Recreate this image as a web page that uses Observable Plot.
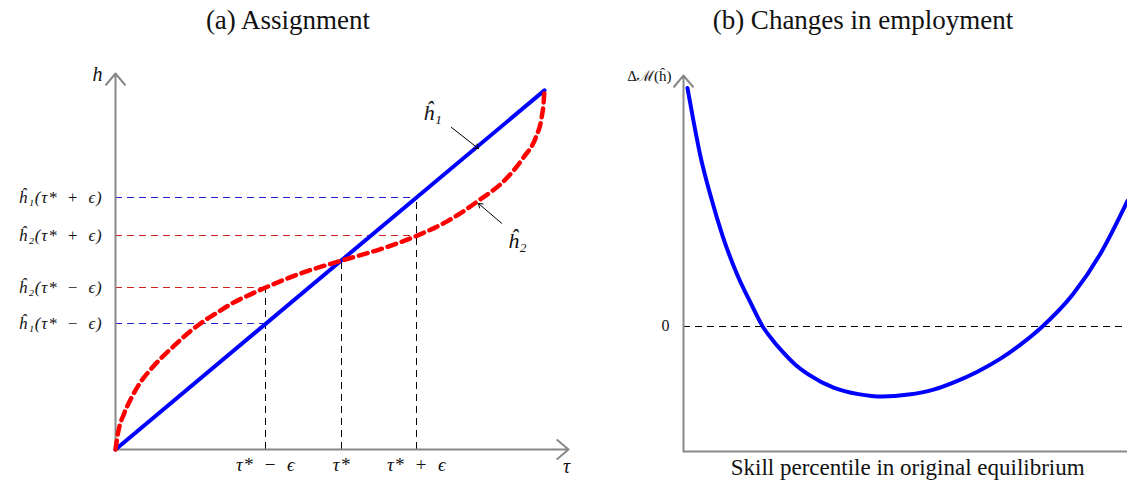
<!DOCTYPE html>
<html><head><meta charset="utf-8">
<script src="https://cdn.jsdelivr.net/npm/d3@7"></script>
<script src="https://cdn.jsdelivr.net/npm/@observablehq/plot@0.6"></script>
<style>
body{margin:0;background:#fff;}
#wrap{position:relative;width:1127px;height:481px;overflow:hidden;font-family:"Liberation Serif","DejaVu Serif",serif;color:#111;}
.title{position:absolute;top:5px;font-size:27px;text-align:center;white-space:nowrap;}
#pa{position:absolute;left:0;top:50px;}
#pb{position:absolute;left:590px;top:50px;}
#pa g[aria-label="y-axis tick label"] text{letter-spacing:0.8px;}
#pa g[aria-label="x-axis tick label"] text{letter-spacing:0.6px;}
</style></head><body>
<div id="wrap">
<div class="title" style="left:88px;width:400px">(a) Assignment</div>
<div class="title" style="left:663px;width:400px">(b) Changes in employment</div>
<div id="pa"></div><div id="pb"></div>
</div>
<script>
// ---------- Panel (a): Assignment ----------
const h1Tau = [0, 1];
const h1Val = [0, 1];
const h2Tau = [0, 0.007, 0.019, 0.035, 0.058, 0.082, 0.105, 0.135, 0.168, 0.198, 0.238, 0.275, 0.315, 0.350, 0.438, 0.527, 0.618, 0.702, 0.774, 0.844, 0.914, 0.951, 0.980, 0.993, 0.998, 1.0];
const h2Val = [0, 0.053, 0.097, 0.139, 0.187, 0.223, 0.253, 0.287, 0.323, 0.351, 0.382, 0.409, 0.432, 0.451, 0.493, 0.526, 0.558, 0.595, 0.636, 0.691, 0.758, 0.813, 0.870, 0.922, 0.966, 1.0];
const tauTicks = [0.35, 0.527, 0.702];
const tauTickLabels = ["τ*\u2002−\u2002ϵ", "τ*", "τ*\u2002+\u2002ϵ"];
const tauGuideTop = [0.451, 0.527, 0.702];
const hTicks = [0.351, 0.451, 0.595, 0.702];
const hTickLabels = ["ĥ₁(τ*\u2002−\u2002ϵ)", "ĥ₂(τ*\u2002−\u2002ϵ)", "ĥ₂(τ*\u2002+\u2002ϵ)", "ĥ₁(τ*\u2002+\u2002ϵ)"];
const hTickSeries = ["h1", "h2", "h2", "h1"];
const hGuideEnd = [0.35, 0.35, 0.702, 0.702];
const tauMax = 1.056, hMax = 1.047;

const serif = "Liberation Serif, DejaVu Serif, serif";
const h1Pts = h1Tau.map((t, i) => ({t, h: h1Val[i]}));
const h2Pts = h2Tau.map((t, i) => ({t, h: h2Val[i]}));
const hGuides = hTicks.map((h, i) => ({h, end: hGuideEnd[i], s: hTickSeries[i]}));
const tGuides = tauTicks.map((t, i) => ({t, top: tauGuideTop[i]}));

const plotA = Plot.plot({
  width: 590, height: 431,
  marginLeft: 115, marginRight: 22, marginTop: 23, marginBottom: 32,
  x: {domain: [0, tauMax]},
  y: {domain: [0, hMax]},
  style: {fontFamily: serif, background: "transparent", overflow: "visible"},
  marks: [
    Plot.ruleY(hGuides.filter(d => d.s === "h1"), {y: "h", x1: 0, x2: "end", stroke: "#2020d0", strokeWidth: 1, strokeDasharray: "7,5", shapeRendering: "crispEdges"}),
    Plot.ruleY(hGuides.filter(d => d.s === "h2"), {y: "h", x1: 0, x2: "end", stroke: "#d02020", strokeWidth: 1, strokeDasharray: "7,5", shapeRendering: "crispEdges"}),
    Plot.ruleX(tGuides, {x: "t", y1: 0, y2: "top", stroke: "black", strokeWidth: 1, strokeDasharray: "7,5", shapeRendering: "crispEdges"}),
    Plot.arrow([{x1: 0, y1: 0, x2: tauMax, y2: 0}, {x1: 0, y1: 0, x2: 0, y2: hMax}], {x1: "x1", y1: "y1", x2: "x2", y2: "y2", stroke: "#888", strokeWidth: 2, headLength: 11, headAngle: 80}),
    Plot.line(h1Pts, {x: "t", y: "h", stroke: "blue", strokeWidth: 4}),
    Plot.line(h2Pts, {x: "t", y: "h", stroke: "red", strokeWidth: 4.5, strokeDasharray: "9,6", curve: "monotone-x"}),
    Plot.axisX({ticks: tauTicks, tickFormat: d => tauTickLabels[tauTicks.indexOf(d)], tickSize: 0, tickPadding: 8, fontSize: 19, fontStyle: "italic", fontFamily: serif, label: null}),
    Plot.axisY({ticks: hTicks, tickFormat: d => hTickLabels[hTicks.indexOf(d)], tickSize: 0, tickPadding: 13, fontSize: 17, fontStyle: "italic", fontFamily: serif, label: null}),
    Plot.text([{x: 0, y: hMax, s: "h"}], {x: "x", y: "y", text: "s", dx: -18, dy: 1, fontSize: 20, fontStyle: "italic", fontFamily: serif}),
    Plot.text([{x: tauMax, y: 0, s: "τ"}], {x: "x", y: "y", text: "s", dx: -2, dy: 17, fontSize: 20, fontStyle: "italic", fontFamily: serif}),
    Plot.text([{x: 0.739, y: 0.936, s: "ĥ₁"}, {x: 0.937, y: 0.582, s: "ĥ₂"}], {x: "x", y: "y", text: "s", fontSize: 22, fontStyle: "italic", fontFamily: serif}),
    Plot.arrow([{x1: 0.783, y1: 0.897, x2: 0.846, y2: 0.838}, {x1: 0.900, y1: 0.630, x2: 0.846, y2: 0.685}], {x1: "x1", y1: "y1", x2: "x2", y2: "y2", stroke: "black", strokeWidth: 1, headLength: 7, headAngle: 70})
  ]
});
document.getElementById("pa").append(plotA);

// ---------- Panel (b): Changes in employment ----------
const skill = [0.009, 0.0225, 0.038, 0.061, 0.088, 0.122, 0.151, 0.178, 0.200, 0.223, 0.252, 0.282, 0.338, 0.394, 0.448, 0.507, 0.563, 0.613, 0.662, 0.714, 0.759, 0.809, 0.878, 0.939, 1.0];
const dM = [1.900, 1.637, 1.359, 1.040, 0.721, 0.402, 0.187, 0, -0.108, -0.203, -0.307, -0.386, -0.490, -0.542, -0.562, -0.546, -0.506, -0.442, -0.363, -0.259, -0.147, 0, 0.259, 0.578, 1.0];
const yMinB = -1, yMaxB = 2.0;
const bPts = skill.map((s, i) => ({s, v: dM[i]}));

const plotB = Plot.plot({
  width: 537, height: 431,
  marginLeft: 93, marginRight: 0, marginTop: 25, marginBottom: 30,
  x: {domain: [0, 1]},
  y: {domain: [yMinB, yMaxB]},
  style: {fontFamily: serif, background: "transparent", overflow: "visible"},
  marks: [
    Plot.ruleY([0], {x1: 0, x2: 1, stroke: "black", strokeWidth: 1, strokeDasharray: "7,5", shapeRendering: "crispEdges"}),
    Plot.ruleY([yMinB], {x1: 0, x2: 1, stroke: "#888", strokeWidth: 2}),
    Plot.arrow([{x1: 0, y1: yMinB, x2: 0, y2: yMaxB}], {x1: "x1", y1: "y1", x2: "x2", y2: "y2", stroke: "#888", strokeWidth: 2, headLength: 11, headAngle: 80}),
    Plot.line(bPts, {x: "s", y: "v", stroke: "blue", strokeWidth: 4, curve: "monotone-x"}),
    Plot.axisY({ticks: [0], tickFormat: () => "0", tickSize: 0, tickPadding: 14, fontSize: 16, fontFamily: serif, label: null}),
    Plot.axisX({ticks: [], label: null}),
    Plot.text([{x: 0, y: yMaxB, s: "Δℳ(ĥ)"}], {x: "x", y: "y", text: "s", dx: -12, dy: 1, textAnchor: "end", fontSize: 15, fontFamily: serif}),
    Plot.text([{x: 0.505, y: yMinB, s: "Skill percentile in original equilibrium"}], {x: "x", y: "y", text: "s", dy: 16, fontSize: 23, fontFamily: serif})
  ]
});
document.getElementById("pb").append(plotB);
</script>
</body></html>
